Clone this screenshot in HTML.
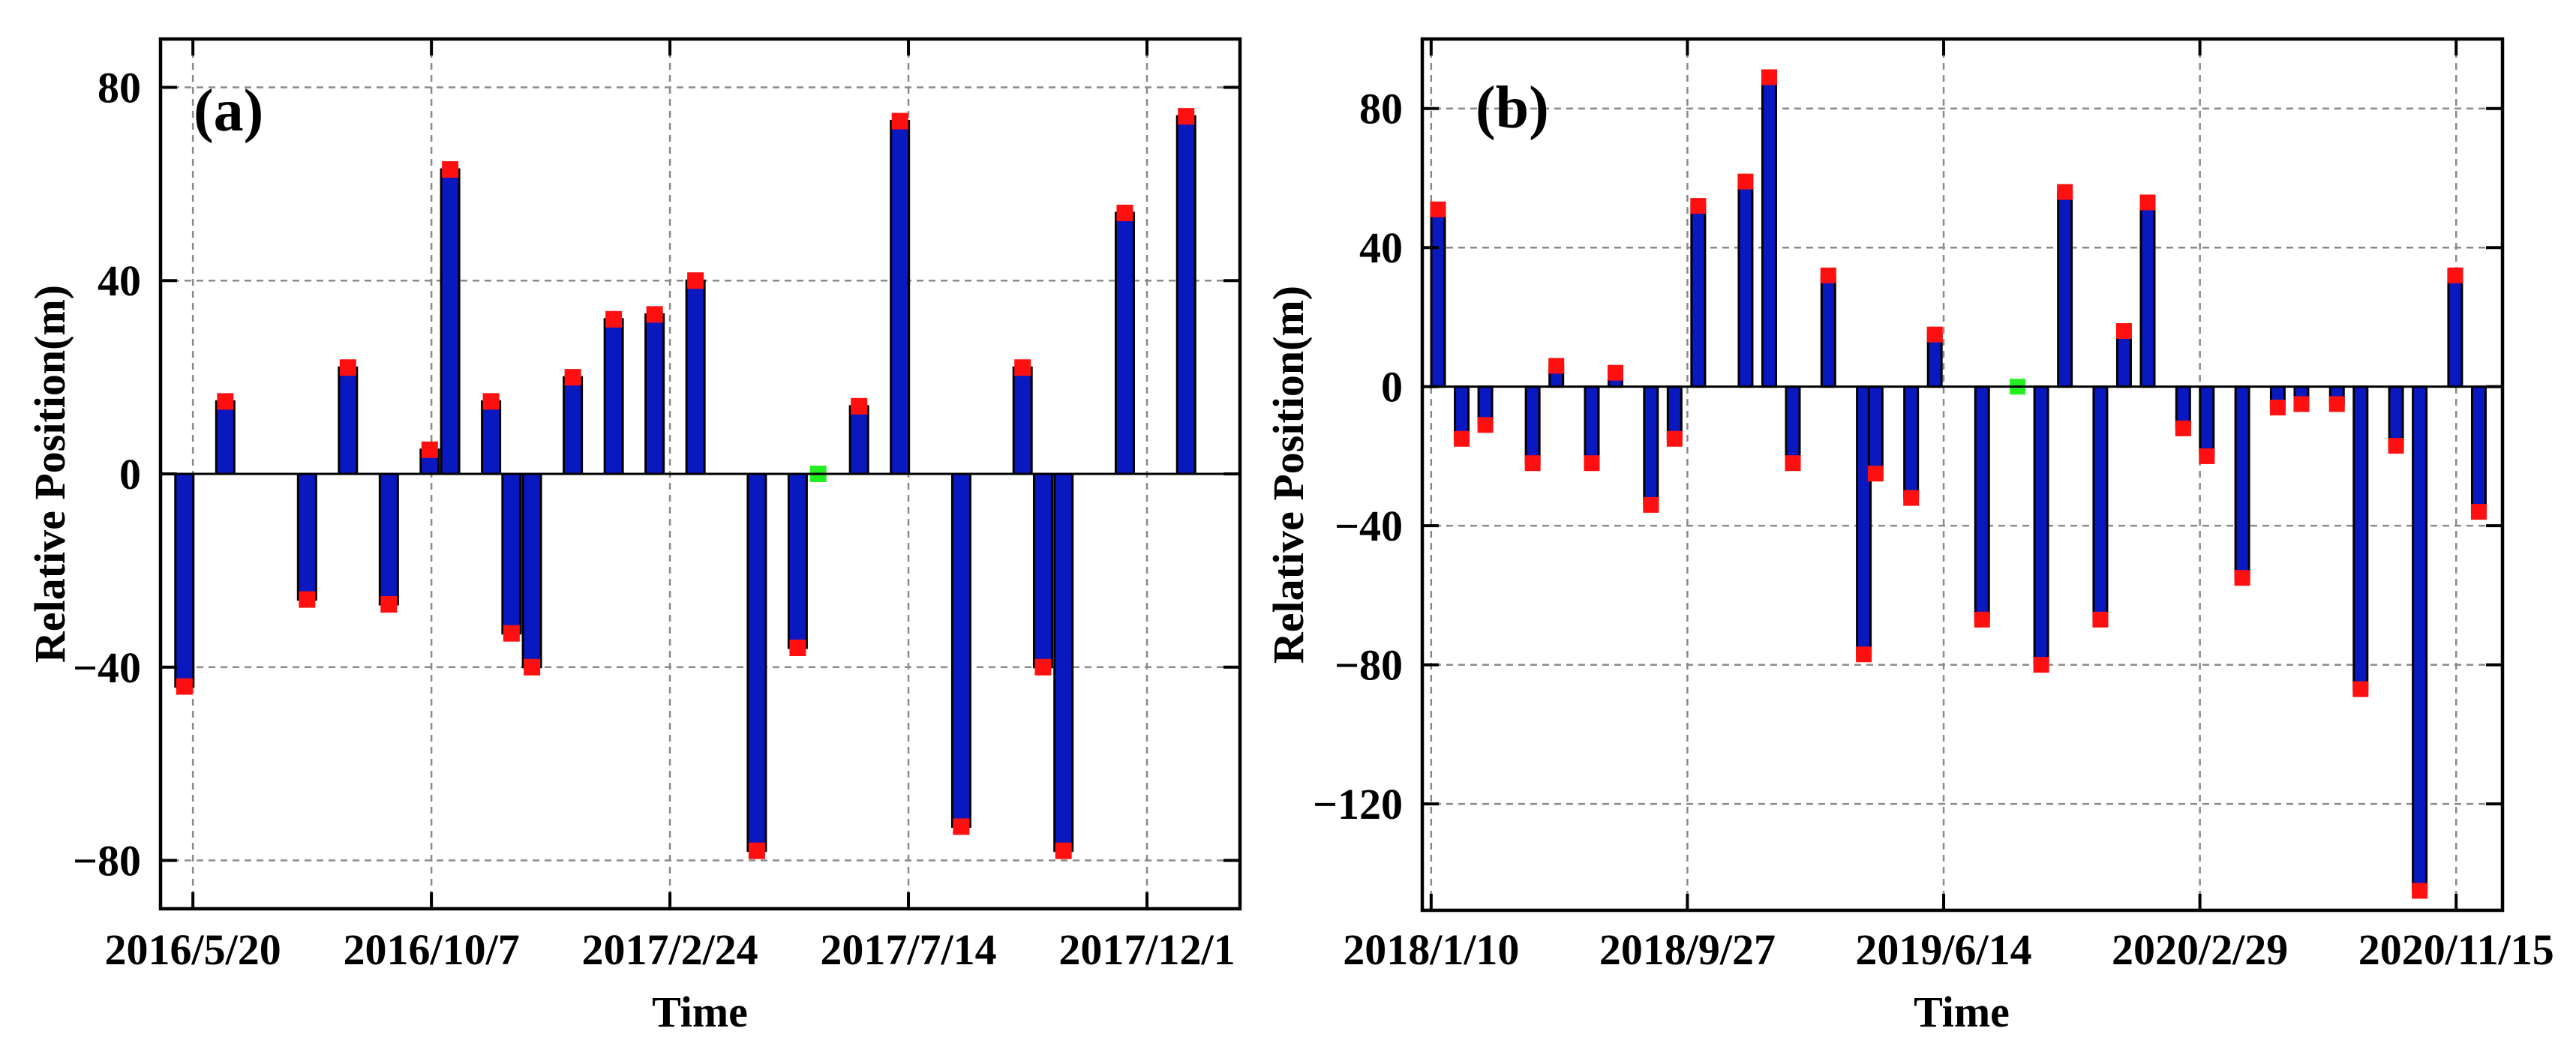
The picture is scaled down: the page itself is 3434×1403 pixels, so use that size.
<!DOCTYPE html>
<html><head><meta charset="utf-8"><style>
html,body{margin:0;padding:0;background:#fff;}
svg{display:block;}
text{font-family:"Liberation Serif",serif;font-weight:bold;fill:#000;}
</style></head><body>
<svg id="chart" width="3434" height="1403" viewBox="0 0 3434 1403" xmlns="http://www.w3.org/2000/svg"></svg>
<script>
// Panel (a) data: days since 2016/5/20, relative position (m)
const aDays = [-5,19,67,91,115,139,151,175,187,199,223,247,271,295,331,355,391,415,451,487,499,511,547,583];
const aValues = [-44,15,-26,22,-27,5,63,15,-33,-40,20,32,33,40,-78,-36,14,73,-73,22,-40,-78,54,74];
const aRefDay = [367];
const aTickDays = [0,140,280,420,560];
const aTickLabels = ["2016/5/20","2016/10/7","2017/2/24","2017/7/14","2017/12/1"];
const aYTicks = [-80,-40,0,40,80];
// Panel (b) data: days since 2018/1/10
const bDays = [7,31,55,103,127,163,187,223,247,271,319,343,367,403,439,451,487,511,559,619,643,679,703,727,763,787,823,859,883,919,943,979,1003,1039,1063];
const bValues = [51,-15,-11,-22,6,-22,4,-34,-15,52,59,89,-22,32,-77,-25,-32,15,-67,-80,56,-67,16,53,-12,-20,-55,-6,-5,-5,-87,-17,-145,32,-36];
const bRefDay = [595];
const bTickDays = [0,260,520,780,1040];
const bTickLabels = ["2018/1/10","2018/9/27","2019/6/14","2020/2/29","2020/11/15"];
const bYTicks = [-120,-80,-40,0,40,80];

const NS="http://www.w3.org/2000/svg";
const svg=document.getElementById('chart');
function mk(tag,attrs,parent){const e=document.createElementNS(NS,tag);for(const k in attrs)e.setAttribute(k,attrs[k]);(parent||svg).appendChild(e);return e;}

function panel(cfg){
  const g=mk('g',{});
  
  
  const L=cfg.left,R=cfg.right,T=cfg.top,B=cfg.bottom;
  const sx=d=>L+(d-cfg.dmin)/(cfg.dmax-cfg.dmin)*(R-L);
  const sy=v=>T+(cfg.vmax-v)/(cfg.vmax-cfg.vmin)*(B-T);
  cfg.ticks.forEach(d=>{
    const l=mk('line',{x1:sx(d),x2:sx(d),y1:T,y2:B,stroke:'#8a8a8a','stroke-width':2.5,'stroke-dasharray':'9,7'},g);
    
    
  });
  cfg.yticks.forEach(v=>{
    if(v===0)return;
    const l=mk('line',{x1:L,x2:R,y1:sy(v),y2:sy(v),stroke:'#8a8a8a','stroke-width':2.5,'stroke-dasharray':'9,7'},g);
    
    
  });
  cfg.days.forEach((d,i)=>{
    const v=cfg.values[i];const x=sx(d);const y0=sy(0),y1=sy(v);
    const r=mk('rect',{x:x-cfg.bw/2,y:Math.min(y0,y1),width:cfg.bw,height:Math.abs(y1-y0),fill:'#0a18c0',stroke:'#000','stroke-width':3},g);
    
    
    const m=mk('rect',{x:x-cfg.ms/2,y:y1-cfg.ms/2,width:cfg.ms,height:cfg.ms,fill:'#ff1010'},g);
    
    
  });
  cfg.ref.forEach(d=>{
    const m=mk('rect',{x:sx(d)-cfg.ms/2,y:sy(0)-cfg.ms/2,width:cfg.ms,height:cfg.ms,fill:'#22ee22'},g);
    
    
  });
  const z=mk('line',{x1:L,x2:R,y1:sy(0),y2:sy(0),stroke:'#000','stroke-width':3},g);
  
  
  const f=mk('rect',{x:L,y:T,width:R-L,height:B-T,fill:'none',stroke:'#000','stroke-width':4.5},g);
  
  
  cfg.ticks.forEach((d,i)=>{
    mk('line',{x1:sx(d),x2:sx(d),y1:B,y2:B-22,stroke:'#000','stroke-width':4},g);
    mk('line',{x1:sx(d),x2:sx(d),y1:T,y2:T+22,stroke:'#000','stroke-width':4},g);
    const t=mk('text',{x:sx(d),y:1286,'font-size':58,'text-anchor':'middle'},g);
    t.textContent=cfg.tickLabels[i];
    
    
  });
  cfg.yticks.forEach(v=>{
    mk('line',{x1:L,x2:L+22,y1:sy(v),y2:sy(v),stroke:'#000','stroke-width':4},g);
    mk('line',{x1:R,x2:R-22,y1:sy(v),y2:sy(v),stroke:'#000','stroke-width':4},g);
    const t=mk('text',{x:L-26,y:sy(v)+20,'font-size':58,'text-anchor':'end'},g);
    t.textContent=v<0?'\u2212'+(-v):String(v);
    
    
  });
  const xt=mk('text',{x:cfg.timeX,y:1369,'font-size':58,'text-anchor':'middle'},g);
  xt.textContent='Time';
  
  
  const yt=mk('text',{x:0,y:0,'font-size':58,'text-anchor':'middle',transform:`translate(${cfg.ytX},${cfg.ytY}) rotate(-90)`},g);
  yt.textContent='Relative Position(m)';
  
  
  const pl=mk('text',{x:cfg.plX,y:cfg.plY,'font-size':80},g);
  pl.textContent=cfg.label;
  
  
}

panel({name:'panel-a',left:214,right:1653,top:52,bottom:1212,dmin:-19,dmax:614.6,vmin:-90,vmax:90,
  days:aDays,values:aValues,ref:aRefDay,ticks:aTickDays,tickLabels:aTickLabels,yticks:aYTicks,
  bw:24,ms:22,timeX:933,ytX:86,ytY:632,plX:258,plY:174,label:'(a)'});
panel({name:'panel-b',left:1896,right:3336,top:52,bottom:1214,dmin:-9,dmax:1087,vmin:-150.6,vmax:100,
  days:bDays,values:bValues,ref:bRefDay,ticks:bTickDays,tickLabels:bTickLabels,yticks:bYTicks,
  bw:18,ms:21,timeX:2615,ytX:1737,ytY:633,plX:1967,plY:170,label:'(b)'});
</script>
</body></html>
